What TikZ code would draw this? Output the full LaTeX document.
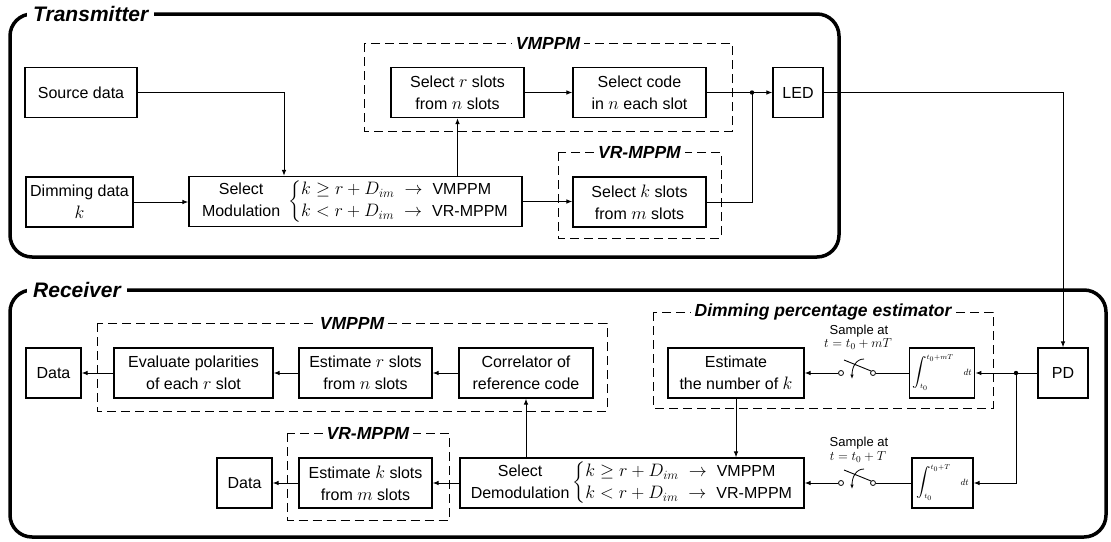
\RequirePackage{fix-cm}
\documentclass[tikz,border=0pt]{standalone}
\usepackage{amsmath}
\usepackage{fontspec}
\setmainfont{Liberation Sans}
\DeclareMathSizes{16}{18}{12.6}{9}
\usetikzlibrary{arrows.meta}
\begin{document}
\begin{tikzpicture}[x=1pt,y=-1pt,
    blk/.style={draw,line width=1.1pt,minimum height=50pt,align=center,inner sep=3pt,font=\fontsize{16}{22}\selectfont},
    grp/.style={dash pattern=on 9pt off 5pt,line width=1pt},
    grptitle/.style={fill=white,inner xsep=4pt,inner ysep=1pt,font=\fontsize{17.5}{20}\selectfont\bfseries\itshape},
    frame/.style={line width=3.5pt,rounded corners=22pt},
    frametitle/.style={fill=white,anchor=west,inner xsep=6pt,inner ysep=1pt,font=\fontsize{21}{24}\selectfont\bfseries\itshape},
    arr/.style={-{Latex[length=6pt,width=4.5pt]},line width=1pt},
    wire/.style={line width=1pt},
    pin/.style={circle,draw,fill=white,inner sep=0pt,minimum size=5pt,line width=0.8pt},
    smp/.style={inner sep=0pt,font=\fontsize{13}{15}\selectfont},
    integ/.style={blk,minimum width=61pt,font=\fontsize{14}{16}\selectfont}]
  \useasboundingbox (0,0) rectangle (1111,541);

  \draw[frame] (10,14) rectangle (839,257);
  \node[frametitle] (txtitle) at (27,14) {Transmitter};
  \draw[frame] (10,290) rectangle (1106,537);
  \node[frametitle] (rxtitle) at (27,290) {Receiver};

  \draw[grp] (364,43) rectangle (732,131);
  \node[grptitle] (txvm) at (548,43) {VMPPM};
  \draw[grp] (558,152) rectangle (721,238);
  \node[grptitle] (txvr) at (639.5,152) {VR-MPPM};
  \draw[grp] (97,323) rectangle (607,411);
  \node[grptitle] (rxvm) at (352,323) {VMPPM};
  \draw[grp] (287.5,433) rectangle (449,520);
  \node[grptitle] (rxvr) at (368,433) {VR-MPPM};
  \draw[grp] (653,312) rectangle (993,408);
  \node[grptitle] (rxdim) at (823,312) {Dimming percentage estimator};

  \node[blk,minimum width=112pt] (src) at (81,92.5) {Source data};
  \node[blk,minimum width=107pt] (dimdat) at (79.5,202) {Dimming data\\$k$};
  \node[blk,minimum width=333pt,inner xsep=8pt] (selmod) at (355.5,201.5) {\begin{tabular}{@{}c@{}}Select\\Modulation\end{tabular}\hspace{8pt}$\left\{\begin{array}{@{}l@{}}k\geq r+D_{im}\;\rightarrow\;\text{VMPPM}\\k<r+D_{im}\;\rightarrow\;\text{VR-MPPM}\end{array}\right.$};
  \node[blk,minimum width=133pt] (selr) at (457.5,92.5) {Select $r$ slots\\from $n$ slots};
  \node[blk,minimum width=133pt] (selcode) at (639.5,92.5) {Select code\\in $n$ each slot};
  \node[blk,minimum width=133pt] (selk) at (639.5,202) {Select $k$ slots\\from $m$ slots};
  \node[blk,minimum width=50pt] (led) at (798,92.5) {LED};
  \coordinate (j1) at (752,92.5);

  \draw[arr] (src.east) -| ([xshift=-71.5pt]selmod.north);
  \draw[arr] (dimdat.east) -- (dimdat.east -| selmod.west);
  \draw[arr] (selmod.north -| selr.south) -- (selr.south);
  \draw[arr] (selmod.east) -- (selmod.east -| selk.west);
  \draw[arr] (selr.east) -- (selcode.west);
  \draw[wire] (selcode.east) -- (j1);
  \draw[wire] (selk.east) -| (j1);
  \draw[arr] (j1) -- (led.west);
  \fill (j1) circle (2.2pt);

  \node[blk,minimum width=55pt] (data1) at (53.5,373) {Data};
  \node[blk,minimum width=159pt] (evalpol) at (193.5,373) {Evaluate polarities\\of each $r$ slot};
  \node[blk,minimum width=133pt] (estr) at (365.5,373) {Estimate $r$ slots\\from $n$ slots};
  \node[blk,minimum width=134pt] (corr) at (526,373) {Correlator of\\reference code};
  \node[blk,minimum width=136pt] (estnum) at (736,373) {Estimate\\the number of $k$};
  \node[integ] (int1) at (942,373) {$\displaystyle\int_{\scriptscriptstyle t_0}^{\scriptscriptstyle t_0+mT}$\hspace{10pt}{\fontsize{9}{10}\selectfont$dt$}};
  \node[blk,minimum width=50pt] (pd) at (1063,373) {PD};
  \node[blk,minimum width=55pt] (data2) at (244.5,483) {Data};
  \node[blk,minimum width=133pt] (estk) at (365.5,483) {Estimate $k$ slots\\from $m$ slots};
  \node[blk,minimum width=344pt,inner xsep=4pt] (seldemod) at (632,483) {\begin{tabular}{@{}c@{}}Select\\Demodulation\end{tabular}\hspace{3pt}$\left\{\begin{array}{@{}l@{}}k\geq r+D_{im}\;\rightarrow\;\text{VMPPM}\\k<r+D_{im}\;\rightarrow\;\text{VR-MPPM}\end{array}\right.$};
  \node[integ] (int2) at (942.5,483) {$\displaystyle\int_{\scriptscriptstyle t_0}^{\scriptscriptstyle t_0+T}$\hspace{10pt}{\fontsize{9}{10}\selectfont$dt$}};

  \node[pin] (s1l) at (841,373) {};
  \node[pin] (s1r) at (873,373) {};
  \coordinate (s1tip) at (844,360);
  \draw[line width=0.9pt] (s1r.north west) -- (s1tip);
  \draw[-{Latex[length=4.5pt,width=3.5pt]},line width=0.8pt] (864,359) .. controls (856,359) and (852,367) .. (852,379);
  \node[smp] (smp1a) at (859,331) {Sample at};
  \node[smp] (smp1b) at (858,344) {$t=t_0+mT$};

  \node[pin] (s2l) at (841,483) {};
  \node[pin] (s2r) at (873,483) {};
  \coordinate (s2tip) at (844,470);
  \draw[line width=0.9pt] (s2r.north west) -- (s2tip);
  \draw[-{Latex[length=4.5pt,width=3.5pt]},line width=0.8pt] (864,469) .. controls (856,469) and (852,477) .. (852,489);
  \node[smp] (smp2a) at (859,443) {Sample at};
  \node[smp] (smp2b) at (858,457) {$t=t_0+T$};

  \coordinate (j2) at (1016,373);
  \draw[arr] (led.east) -| (pd.north);
  \draw[arr] (pd.west) -- (int1.east);
  \draw[arr] (j2) |- (int2.east);
  \fill (j2) circle (2.2pt);
  \draw[wire] (int1.west) -- (s1r.east);
  \draw[arr] (s1l.west) -- (estnum.east);
  \draw[wire] (int2.west) -- (s2r.east);
  \draw[arr] (s2l.west) -- (seldemod.east);
  \draw[arr] (estnum.south) -- (estnum.south |- seldemod.north);
  \draw[arr] (seldemod.north -| corr.south) -- (corr.south);
  \draw[arr] (corr.west) -- (estr.east);
  \draw[arr] (estr.west) -- (evalpol.east);
  \draw[arr] (evalpol.west) -- (data1.east);
  \draw[arr] (seldemod.west) -- (estk.east);
  \draw[arr] (estk.west) -- (data2.east);
\end{tikzpicture}
\end{document}
